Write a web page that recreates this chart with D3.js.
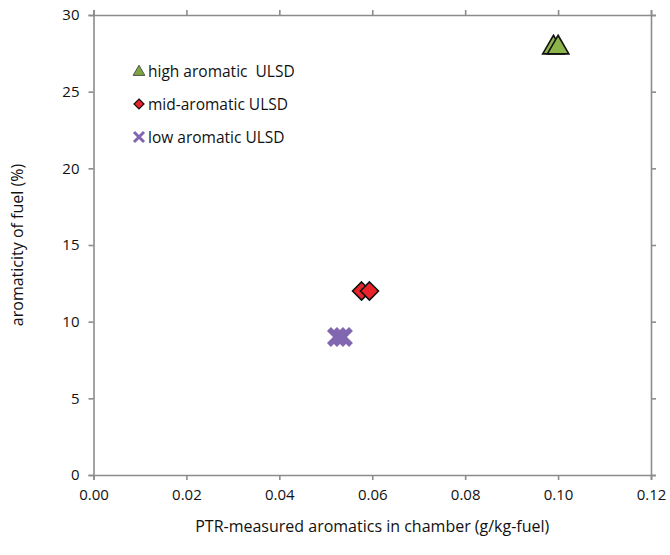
<!DOCTYPE html>
<html>
<head>
<meta charset="utf-8">
<script src="https://cdn.jsdelivr.net/npm/d3@7"></script>
<style>
  body { margin: 0; background: #fff; }
  text { font-family: "Open Sans", sans-serif; fill: #111; }
</style>
</head>
<body>
<div id="chart"></div>
<script>
// data
var seriesNames = ["high aromatic  ULSD", "mid-aromatic ULSD", "low aromatic ULSD"];
var highX = [0.0990, 0.1000];
var highY = [28, 28];
var midX = [0.0577, 0.0594];
var midY = [12, 12];
var lowX = [0.0524, 0.0537];
var lowY = [9, 9];
var xTicks = [0, 0.02, 0.04, 0.06, 0.08, 0.10, 0.12];
var yTicks = [0, 5, 10, 15, 20, 25, 30];

var svgWidth = 670, svgHeight = 555;
var margin = {top: 15, right: 19, bottom: 80, left: 93.5};
var width = svgWidth - margin.left - margin.right;
var height = svgHeight - margin.top - margin.bottom;

var svg = d3.select("#chart").append("svg")
    .attr("width", svgWidth).attr("height", svgHeight);
var g = svg.append("g")
    .attr("transform", "translate(" + margin.left + " " + margin.top + ")");

var x = d3.scaleLinear().domain([0, 0.12]).range([0, width]);
var y = d3.scaleLinear().domain([0, 30]).range([height, 0]);

var axisColour = "#8c8c8c";

// axes
var xAxis = g.append("g").attr("transform", "translate(0 " + height + ")")
    .call(d3.axisBottom(x).tickValues(xTicks).tickFormat(d3.format(".2f")).tickSizeOuter(0).tickSize(5).tickPadding(9));
var yAxis = g.append("g")
    .call(d3.axisLeft(y).tickValues(yTicks).tickSizeOuter(0).tickSize(5).tickPadding(9));
var xTop = g.append("g")
    .call(d3.axisTop(x).tickValues(xTicks).tickFormat("").tickSizeOuter(0).tickSize(5));
var yRight = g.append("g").attr("transform", "translate(" + width + " 0)")
    .call(d3.axisRight(y).tickValues(yTicks).tickFormat("").tickSizeOuter(0).tickSize(5));

[xAxis, yAxis, xTop, yRight].forEach(function(a) {
    a.selectAll("path, line").attr("stroke", axisColour).attr("stroke-width", 1.6);
    a.selectAll("text").attr("font-size", "15px").style("font-family", "'Open Sans', sans-serif").attr("fill", "#111");
});

// axis titles
svg.append("text")
    .attr("x", margin.left + width / 2).attr("y", 532)
    .attr("text-anchor", "middle").attr("font-size", "16px")
    .text("PTR-measured aromatics in chamber (g/kg-fuel)");
svg.append("text")
    .attr("transform", "translate(23 " + (margin.top + height / 2) + ") rotate(-90)")
    .attr("text-anchor", "middle").attr("font-size", "16px")
    .text("aromaticity of fuel (%)");

// markers
var tri = d3.symbol().type(d3.symbolTriangle).size(200);
var diamond = "M0,-9L9,0L0,9L-9,0Z";

function pairs(xs, ys) { return xs.map(function(v, i) { return [v, ys[i]]; }); }

g.selectAll(".high").data(pairs(highX, highY)).enter().append("path")
    .attr("class", "high")
    .attr("d", tri)
    .attr("transform", function(d) { return "translate(" + x(d[0]) + " " + (y(d[1]) + 2) + ")"; })
    .attr("fill", "#8db44a").attr("stroke", "#111").attr("stroke-width", 1.6).attr("stroke-linejoin", "miter");

g.selectAll(".mid").data(pairs(midX, midY)).enter().append("path")
    .attr("class", "mid")
    .attr("d", diamond)
    .attr("transform", function(d) { return "translate(" + x(d[0]) + " " + y(d[1]) + ")"; })
    .attr("fill", "#e8242a").attr("stroke", "#111").attr("stroke-width", 1.6);

var cross = "M-8,-8L8,8M-8,8L8,-8";
g.selectAll(".low").data(pairs(lowX, lowY)).enter().append("path")
    .attr("class", "low")
    .attr("d", cross)
    .attr("transform", function(d) { return "translate(" + x(d[0]) + " " + y(d[1]) + ")"; })
    .attr("fill", "none").attr("stroke", "#8166b0").attr("stroke-width", 5.5);

// legend
var legend = svg.append("g").attr("transform", "translate(139 71)");
var legendItems = legend.selectAll("g").data(seriesNames).enter().append("g")
    .attr("transform", function(d, i) { return "translate(0 " + (i * 33) + ")"; });

legendItems.each(function(d, i) {
    var item = d3.select(this);
    if (i === 0) {
        item.append("path").attr("d", d3.symbol().type(d3.symbolTriangle).size(60))
            .attr("transform", "translate(0 1)")
            .attr("fill", "#7fa542").attr("stroke", "#333").attr("stroke-width", 0.8);
    } else if (i === 1) {
        item.append("path").attr("d", "M0,-5L5,0L0,5L-5,0Z")
            .attr("fill", "#e8242a").attr("stroke", "#111").attr("stroke-width", 1.2);
    } else {
        item.append("path").attr("d", "M-5,-5L5,5M-5,5L5,-5")
            .attr("stroke", "#8166b0").attr("stroke-width", 3).attr("fill", "none");
    }
    item.append("text").attr("x", 9).attr("y", 5.5)
        .attr("font-size", "15.5px")
        .attr("xml:space", "preserve")
        .text(d);
});
</script>
</body>
</html>
